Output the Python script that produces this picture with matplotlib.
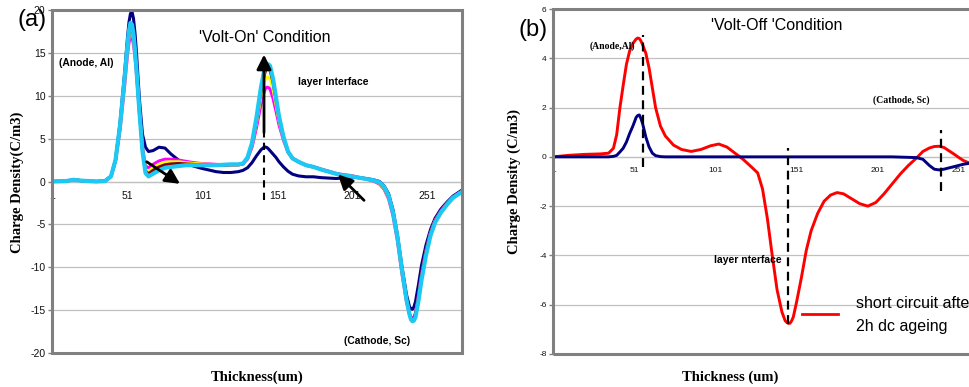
import matplotlib
matplotlib.use('Agg')
import matplotlib.pyplot as plt
from matplotlib.lines import Line2D
from matplotlib.patches import Rectangle

# ---------------- data: panel (a) 'Volt-On' ----------------
xa = [1, 10, 15, 20, 30, 36, 40, 43, 46, 49, 51, 52, 53, 54, 55, 56, 57, 58, 59, 61, 63, 65, 68,
      72, 76, 80, 85, 90, 95, 100, 105, 110, 115, 120, 125, 128, 131, 134, 137, 140, 142, 143,
      144, 145, 146, 148, 150, 152, 155, 158, 161, 165, 170, 175, 180, 185, 190, 195, 200, 205,
      210, 215, 219, 222, 225, 228, 231, 234, 237, 239, 240, 241, 242, 243, 245, 247, 250, 253,
      256, 260, 264, 268, 274]

a_navy = [0.0, 0.05, 0.2, 0.1, 0.0, 0.05, 0.6, 2.5, 6.8, 12.5, 16.8, 18.6, 19.6, 19.8, 19.0, 17.3,
          15.0, 12.2, 9.5, 5.5, 4.0, 3.5, 3.6, 4.0, 3.9, 3.2, 2.5, 2.1, 1.8, 1.55, 1.35, 1.15, 1.05,
          1.05, 1.15, 1.3, 1.6, 2.2, 3.0, 3.7, 4.0, 4.02, 3.95, 3.8, 3.6, 3.2, 2.8, 2.3, 1.7, 1.2,
          0.85, 0.65, 0.55, 0.55, 0.45, 0.4, 0.35, 0.4, 0.5, 0.45, 0.35, 0.2, 0.0, -0.5, -1.4,
          -3.3, -6.3, -10.0, -13.2, -14.6, -14.85, -14.9, -14.6, -14.0, -12.0, -9.8, -7.4, -5.6,
          -4.3, -3.2, -2.4, -1.7, -1.0]

a_magenta = [0.0, 0.05, 0.2, 0.1, 0.0, 0.05, 0.6, 2.4, 6.0, 11.0, 14.8, 16.2, 17.0, 16.9, 16.0,
             14.5, 12.5, 10.2, 8.0, 4.0, 1.8, 1.6, 2.0, 2.4, 2.6, 2.6, 2.5, 2.35, 2.2, 2.1, 2.05,
             2.0, 1.95, 1.95, 1.95, 2.05, 2.6, 4.0, 6.3, 9.0, 10.4, 10.85, 11.0, 10.95, 10.8, 9.7,
             8.2, 6.6, 4.8, 3.4, 2.7, 2.3, 1.9, 1.7, 1.45, 1.2, 0.95, 0.8, 0.7, 0.5, 0.3, 0.05,
             -0.3, -0.9, -2.0, -4.0, -7.0, -10.8, -14.0, -15.5, -15.85, -16.0, -15.8, -15.3,
             -13.2, -10.8, -8.0, -5.9, -4.5, -3.4, -2.5, -1.8, -1.1]

a_yellow = [0.0, 0.05, 0.2, 0.1, 0.0, 0.05, 0.6, 2.5, 6.3, 11.5, 15.4, 16.9, 17.8, 17.6, 16.6,
            14.9, 12.8, 10.4, 8.0, 3.8, 1.4, 1.2, 1.6, 2.0, 2.25, 2.3, 2.3, 2.2, 2.1, 2.05, 2.0,
            1.95, 1.95, 1.95, 1.95, 2.05, 2.7, 4.3, 6.9, 10.0, 11.5, 12.0, 12.2, 12.15, 12.0,
            10.8, 9.0, 7.1, 5.0, 3.5, 2.7, 2.3, 1.9, 1.65, 1.4, 1.15, 0.9, 0.75, 0.65, 0.45, 0.3,
            0.1, -0.2, -0.8, -1.8, -3.8, -6.8, -10.6, -13.9, -15.5, -16.0, -16.2, -16.0, -15.6,
            -13.6, -11.2, -8.3, -6.1, -4.6, -3.5, -2.6, -1.85, -1.15]

a_maroon = [0.0, 0.05, 0.2, 0.1, 0.0, 0.05, 0.6, 2.5, 6.4, 11.8, 15.8, 17.3, 18.2, 18.0, 17.0,
            15.2, 13.0, 10.5, 8.0, 3.7, 1.2, 0.9, 1.3, 1.7, 1.95, 2.05, 2.1, 2.05, 2.0, 1.95, 1.95,
            1.9, 1.9, 1.95, 1.95, 2.05, 2.75, 4.4, 7.2, 10.6, 12.3, 12.9, 13.2, 13.15, 13.0, 11.6,
            9.5, 7.4, 5.1, 3.5, 2.7, 2.3, 1.9, 1.7, 1.4, 1.15, 0.9, 0.72, 0.62, 0.45, 0.3, 0.12,
            -0.15, -0.7, -1.7, -3.7, -6.6, -10.4, -13.8, -15.4, -15.9, -16.1, -15.9, -15.5,
            -13.4, -11.0, -8.1, -6.0, -4.6, -3.5, -2.6, -1.85, -1.15]

a_cyan = [0.0, 0.05, 0.2, 0.1, 0.0, 0.05, 0.6, 2.5, 6.5, 12.0, 16.0, 17.6, 18.5, 18.3, 17.2, 15.3,
          13.0, 10.5, 8.0, 3.5, 1.0, 0.6, 0.9, 1.3, 1.6, 1.7, 1.8, 1.9, 1.9, 1.9, 1.9, 1.9, 1.95,
          2.0, 2.0, 2.1, 2.8, 4.5, 7.5, 11.0, 12.8, 13.45, 13.7, 13.65, 13.5, 12.0, 9.8, 7.6,
          5.2, 3.5, 2.7, 2.3, 1.9, 1.7, 1.4, 1.15, 0.9, 0.7, 0.6, 0.45, 0.3, 0.15, -0.1, -0.6,
          -1.6, -3.6, -6.5, -10.3, -13.8, -15.5, -16.1, -16.3, -16.2, -15.8, -13.9, -11.5, -8.6,
          -6.3, -4.8, -3.6, -2.7, -1.9, -1.2]

# ---------------- data: panel (b) 'Volt-Off' ----------------
xb = [1, 10, 20, 30, 35, 38, 40, 42, 44, 46, 48, 50, 52, 53, 54, 55, 56, 58, 60, 62, 64, 67, 70,
      75, 80, 86, 92, 98, 103, 108, 113, 118, 123, 127, 130, 133, 136, 139, 142, 144, 145, 146,
      147, 148, 149, 151, 154, 157, 160, 164, 168, 172, 176, 180, 185, 190, 195, 200, 205, 210,
      215, 220, 225, 229, 233, 236, 239, 242, 245, 248, 251, 254, 258, 262]

b_red = [0.0, 0.06, 0.1, 0.12, 0.15, 0.35, 0.9, 2.0, 2.9, 3.75, 4.3, 4.6, 4.78, 4.82, 4.8, 4.7,
         4.55, 4.2, 3.6, 2.8, 2.0, 1.25, 0.85, 0.48, 0.3, 0.22, 0.3, 0.45, 0.52, 0.4, 0.15, -0.1,
         -0.4, -0.65, -1.3, -2.5, -4.0, -5.4, -6.3, -6.65, -6.72, -6.76, -6.75, -6.65, -6.5,
         -5.9, -4.9, -3.8, -3.0, -2.3, -1.8, -1.55, -1.45, -1.5, -1.7, -1.9, -2.0, -1.85, -1.5,
         -1.1, -0.7, -0.35, -0.05, 0.22, 0.36, 0.42, 0.43, 0.38, 0.25, 0.12, -0.02, -0.15,
         -0.26, -0.35]

b_navy = [0.0, 0.0, 0.0, 0.0, 0.0, 0.02, 0.06, 0.2, 0.35, 0.6, 0.95, 1.25, 1.6, 1.68, 1.7, 1.55,
          1.35, 0.8, 0.4, 0.15, 0.05, 0.01, 0.0, 0.0, 0.0, 0.0, 0.0, 0.0, 0.0, 0.0, 0.0, 0.0,
          0.0, 0.0, 0.0, 0.0, 0.0, 0.0, 0.0, 0.0, 0.0, 0.0, 0.0, 0.0, 0.0, 0.0, 0.0, 0.0, 0.0,
          0.0, 0.0, 0.0, 0.0, 0.0, 0.0, 0.0, 0.0, 0.0, 0.0, 0.0, -0.01, -0.02, -0.03, -0.1,
          -0.35, -0.5, -0.53, -0.5, -0.45, -0.4, -0.35, -0.3, -0.26, -0.22]

x_ticks = [1, 51, 101, 151, 201, 251]
ya_ticks = [-20, -15, -10, -5, 0, 5, 10, 15, 20]
yb_ticks = [-8, -6, -4, -2, 0, 2, 4, 6]

# dashed markers (data coordinates: x, y_start, y_end)
a_dash = [(142, -2.1, 5.7)]
b_dash = [(56, -0.4, 4.95), (145.6, -6.8, 0.35), (239.9, -1.4, 1.1)]
# arrows in (a): (tail x, tail y, tip x, tip y)
a_arrows = [(63.8, 2.3, 86, -0.27), (142, 5.7, 142, 14.8), (208.7, -2.2, 191.3, 0.82)]

# ---------------- figure ----------------
W, H = 970, 387
fig = plt.figure(figsize=(W / 100, H / 100), dpi=100)
SANS = 'Liberation Sans'
SERIF = 'Liberation Serif'
plt.rcParams['font.family'] = SANS
plt.rcParams['axes.unicode_minus'] = False


def px(x, y):
    return x / W, 1 - y / H


def style(ax, yticks, xlim, ylim, fs):
    ax.set_xlim(*xlim)
    ax.set_ylim(*ylim)
    ax.set_yticks(yticks)
    ax.set_xticks(x_ticks)
    ax.yaxis.grid(True, color='#c0c0c0', lw=0.9)
    ax.set_axisbelow(True)
    for s in ['top', 'right', 'left']:
        ax.spines[s].set_visible(False)
    ax.spines['bottom'].set_position(('data', 0))
    ax.spines['bottom'].set_color('#c0c0c0')
    ax.spines['bottom'].set_linewidth(0.9)
    ax.tick_params(axis='x', length=0, pad=7, labelsize=fs, labelcolor='#111111')
    ax.tick_params(axis='y', length=3, width=1, color='#808080', labelsize=fs, pad=2,
                   labelcolor='#111111')
    ax.add_patch(Rectangle((0, 0), 1, 1, transform=ax.transAxes, fill=False,
                           ec='#808080', lw=2.2, clip_on=False, zorder=6))


# ---- panel (a)
axa = fig.add_axes([52.5 / W, 1 - 353 / H, (462 - 52.5) / W, (353 - 10) / H])
style(axa, ya_ticks, (1, 274), (-20, 20), 7.5)
axa.plot(xa, a_navy, color='#000080', lw=2.2, zorder=3)
axa.plot(xa, a_magenta, color='#FF00FF', lw=2.2, zorder=3)
axa.plot(xa, a_yellow, color='#FFFF00', lw=2.2, zorder=3)
axa.plot(xa, a_maroon, color='#800000', lw=2.2, zorder=3)
axa.plot(xa, a_cyan, color='#1EC8F5', lw=3.0, zorder=3)
for x, y0, y1 in a_dash:
    axa.plot([x, x], [y0, y1], color='black', lw=1.5, ls=(0, (3.5, 2.5)), zorder=4)
for x0, y0, x1, y1 in a_arrows:
    axa.annotate('', xy=(x1, y1), xytext=(x0, y0),
                 arrowprops=dict(arrowstyle='-|>', color='black', lw=2.0,
                                 mutation_scale=22, shrinkA=0, shrinkB=0), zorder=5)

fig.text(*px(32, 20), '(a)', fontsize=17, ha='center', va='center')
fig.text(*px(265, 37), "'Volt-On' Condition", fontsize=11.5, ha='center', va='center')
fig.text(*px(59, 63), '(Anode, Al)', fontsize=7.4, weight='bold', ha='left', va='center')
fig.text(*px(298, 82), 'layer Interface', fontsize=7.5, weight='bold', ha='left', va='center')
fig.text(*px(344, 341), '(Cathode, Sc)', fontsize=7.4, weight='bold', ha='left', va='center')
fig.text(*px(17, 182), 'Charge Density(C/m3)', fontsize=10.5, weight='bold', family=SERIF,
         rotation=90, ha='center', va='center')
fig.text(*px(257, 377), 'Thickness(um)', fontsize=10.5, weight='bold', family=SERIF,
         ha='center', va='center')

# ---- panel (b)
axb = fig.add_axes([553.5 / W, 1 - 354 / H, (978 - 553.5) / W, (354 - 9) / H])
style(axb, yb_ticks, (1, 263), (-8, 6), 6)
axb.plot(xb, b_red, color='#FF0000', lw=2.1, zorder=3)
axb.plot(xb, b_navy, color='#000080', lw=2.1, zorder=3)
for x, y0, y1 in b_dash:
    axb.plot([x, x], [y0, y1], color='black', lw=1.6, ls=(0, (4, 2.5)), zorder=4)

fig.text(*px(533, 30), '(b)', fontsize=17, ha='center', va='center')
fig.text(*px(777, 26), "'Volt-Off 'Condition", fontsize=11.5, ha='center', va='center')
fig.text(*px(590, 46), '(Anode,Al)', fontsize=7, weight='bold', family=SERIF,
         ha='left', va='center')
fig.text(*px(873, 100), '(Cathode, Sc)', fontsize=7, weight='bold', family=SERIF,
         ha='left', va='center')
fig.text(*px(714, 260), 'layer nterface', fontsize=7.5, weight='bold', ha='left', va='center')
fig.text(*px(514, 182), 'Charge Density (C/m3)', fontsize=10.5, weight='bold', family=SERIF,
         rotation=90, ha='center', va='center')
fig.text(*px(730, 377), 'Thickness (um)', fontsize=10.5, weight='bold', family=SERIF,
         ha='center', va='center')

# legend
lx0, ly0 = px(802, 314)
lx1, _ = px(838, 314)
fig.add_artist(Line2D([lx0, lx1], [ly0, ly0], color='#FF0000', lw=2.0))
fig.text(*px(856, 304), 'short circuit after', fontsize=11.5, ha='left', va='center')
fig.text(*px(856, 326), '2h dc ageing', fontsize=11.5, ha='left', va='center')

fig.savefig('out.png', dpi=100)
